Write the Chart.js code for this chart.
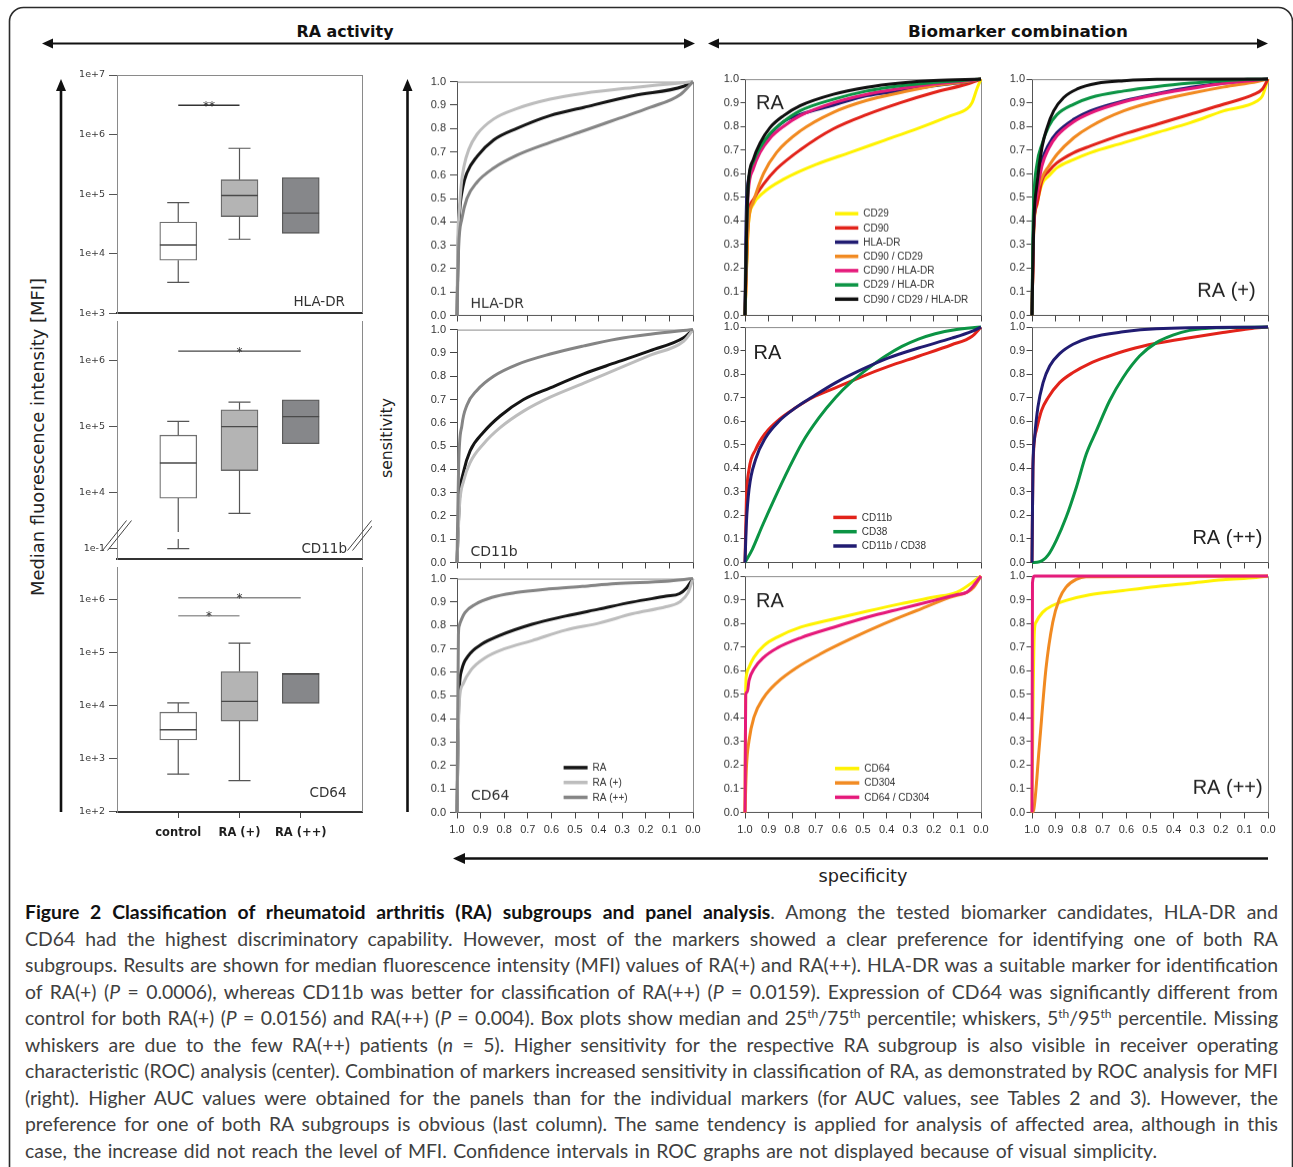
<!DOCTYPE html>
<html>
<head>
<meta charset="utf-8">
<title>Figure 2</title>
<script src="https://cdn.jsdelivr.net/npm/chart.js@4.4.1/dist/chart.umd.min.js"></script>
<style>
  body { margin: 0; width: 1293px; height: 1167px; overflow: hidden; position: relative; background: #fff; }
  .panel { position: absolute; }
  #caption { position: absolute; left: 25px; top: 899px; width: 1253px; font-family: Lato, sans-serif; font-size: 17.5px; line-height: 26.55px; color: #404040; }
  #caption .cl { white-space: nowrap; }
  #caption b { color: #111; }
  #caption sup { font-size: 0.62em; line-height: 0; vertical-align: 0.55em; }
</style>
</head>
<body>
<svg width="1293" height="1167" style="position:absolute;left:0;top:0">
  <rect x="9.5" y="7.5" width="1283" height="1200" rx="14" ry="14" fill="none" stroke="#2b2b2b" stroke-width="1.6"/>
  <g stroke="#111" fill="none">
    <line x1="50" y1="43.5" x2="687" y2="43.5" stroke-width="2"/>
    <line x1="716" y1="43.5" x2="1260" y2="43.5" stroke-width="2"/>
    <line x1="61" y1="88" x2="61" y2="812" stroke-width="2.6"/>
    <line x1="407.5" y1="88" x2="407.5" y2="812" stroke-width="2.6"/>
    <line x1="463" y1="858.5" x2="1268" y2="858.5" stroke-width="2.4"/>
  </g>
  <g fill="#111">
    <polygon points="42,43.5 53,38.5 53,48.5"/>
    <polygon points="695,43.5 684,38.5 684,48.5"/>
    <polygon points="708,43.5 719,38.5 719,48.5"/>
    <polygon points="1268,43.5 1257,38.5 1257,48.5"/>
    <polygon points="61,79 56,91 66,91"/>
    <polygon points="407.5,79 402.5,91 412.5,91"/>
    <polygon points="453,858.5 465,853 465,864"/>
  </g>
  <g font-family="DejaVu Sans" fill="#111">
    <text x="345" y="36.5" font-size="16" font-weight="bold" text-anchor="middle" textLength="97" lengthAdjust="spacingAndGlyphs">RA activity</text>
    <text x="1018" y="36.5" font-size="16" font-weight="bold" text-anchor="middle" textLength="220" lengthAdjust="spacingAndGlyphs">Biomarker combination</text>
    <text transform="translate(44,437) rotate(-90)" font-size="17.5" text-anchor="middle" textLength="318" lengthAdjust="spacingAndGlyphs" fill="#222">Median fluorescence intensity [MFI]</text>
    <text transform="translate(392,438) rotate(-90)" font-size="16" text-anchor="middle" textLength="80" lengthAdjust="spacingAndGlyphs" fill="#222">sensitivity</text>
    <text x="863" y="882" font-size="17" text-anchor="middle" textLength="89" lengthAdjust="spacingAndGlyphs" fill="#222">specificity</text>
  </g>
</svg>

<div id="caption">
  <div class="cl"><span><b>Figure 2 Classification of rheumatoid arthritis (RA) subgroups and panel analysis</b>. Among the tested biomarker candidates, HLA-DR and</span></div>
  <div class="cl"><span>CD64 had the highest discriminatory capability. However, most of the markers showed a clear preference for identifying one of both RA</span></div>
  <div class="cl"><span>subgroups. Results are shown for median fluorescence intensity (MFI) values of RA(+) and RA(++). HLA-DR was a suitable marker for identification</span></div>
  <div class="cl"><span>of RA(+) (<i>P</i> = 0.0006), whereas CD11b was better for classification of RA(++) (<i>P</i> = 0.0159). Expression of CD64 was significantly different from</span></div>
  <div class="cl"><span>control for both RA(+) (<i>P</i> = 0.0156) and RA(++) (<i>P</i> = 0.004). Box plots show median and 25<sup>th</sup>/75<sup>th</sup> percentile; whiskers, 5<sup>th</sup>/95<sup>th</sup> percentile. Missing</span></div>
  <div class="cl"><span>whiskers are due to the few RA(++) patients (<i>n</i> = 5). Higher sensitivity for the respective RA subgroup is also visible in receiver operating</span></div>
  <div class="cl"><span>characteristic (ROC) analysis (center). Combination of markers increased sensitivity in classification of RA, as demonstrated by ROC analysis for MFI</span></div>
  <div class="cl"><span>(right). Higher AUC values were obtained for the panels than for the individual markers (for AUC values, see Tables 2 and 3). However, the</span></div>
  <div class="cl"><span>preference for one of both RA subgroups is obvious (last column). The same tendency is applied for analysis of affected area, although in this</span></div>
  <div class="cl"><span>case, the increase did not reach the level of MFI. Confidence intervals in ROC graphs are not displayed because of visual simplicity.</span></div>
</div>

<script>
// ---------- Box plots (MFI)
const groups = ['control', 'RA (+)', 'RA (++)'];

const hladrQ1  = [7.8e3, 4.2e4, 2.2e4];
const hladrMed = [1.4e4, 9.5e4, 4.8e4];
const hladrQ3  = [3.4e4, 1.75e5, 1.9e5];
const hladrLo  = [3.3e3, 1.75e4, null];
const hladrHi  = [7.2e4, 5.9e5, null];
const hladrSig = [[1, 2, 3.1e6, '**']];

const cd11bQ1  = [8.2e3, 2.15e4, 5.5e4];
const cd11bMed = [2.8e4, 1.0e5, 1.42e5];
const cd11bQ3  = [7.4e4, 1.8e5, 2.55e5];
const cd11bLo  = [0.1, 4.8e3, null];
const cd11bHi  = [1.2e5, 2.35e5, null];
const cd11bSig = [[1, 3, 1.4e6, '*']];
const cd11bBreak = [1e3, 2.5e3];

const cd64Q1  = [2.25e3, 5.1e3, 1.1e4];
const cd64Med = [3.5e3, 1.2e4, 3.9e4];
const cd64Q3  = [7.5e3, 4.35e4, 4.05e4];
const cd64Lo  = [510, 385, null];
const cd64Hi  = [1.12e4, 1.5e5, null];
const cd64Sig = [[1, 3, 1.07e6, '*'], [1, 2, 4.9e5, '*']];

const hladrTicks = [1e3, 1e4, 1e5, 1e6, 1e7];
const hladrTickLabels = ['1e+3', '1e+4', '1e+5', '1e+6', '1e+7'];
const cd11bTicks = [0.1, 1e4, 1e5, 1e6];
const cd11bTickLabels = ['1e-1', '1e+4', '1e+5', '1e+6'];
const cd64Ticks = [1e2, 1e3, 1e4, 1e5, 1e6];
const cd64TickLabels = ['1e+2', '1e+3', '1e+4', '1e+5', '1e+6'];

// ---------- Courbes ROC [spécificité, sensibilité]
const rocTicks = [0, 0.1, 0.2, 0.3, 0.4, 0.5, 0.6, 0.7, 0.8, 0.9, 1.0];

// colonne 1 : RA / RA(+) / RA(++)
const hlaRA   = [[1,0],[0.995,0.3],[0.989,0.44],[0.975,0.55],[0.958,0.61],[0.915,0.68],[0.845,0.75],[0.746,0.8],[0.605,0.855],[0.463,0.89],[0.251,0.94],[0.04,0.98],[0,1]];
const hlaRAp  = [[1,0],[0.997,0.3],[0.99,0.45],[0.982,0.56],[0.97,0.64],[0.95,0.71],[0.915,0.775],[0.845,0.84],[0.746,0.885],[0.605,0.925],[0.463,0.95],[0.251,0.975],[0.1,0.99],[0,1]];
const hlaRApp = [[1,0],[0.993,0.29],[0.979,0.415],[0.958,0.5],[0.915,0.57],[0.845,0.63],[0.746,0.685],[0.605,0.74],[0.463,0.79],[0.322,0.84],[0.181,0.89],[0.054,0.945],[0,1]];

const cdbRA   = [[1,0],[0.989,0.28],[0.972,0.39],[0.944,0.48],[0.887,0.56],[0.816,0.63],[0.718,0.7],[0.605,0.75],[0.463,0.81],[0.322,0.86],[0.181,0.91],[0.04,0.965],[0,1]];
const cdbRAp  = [[1,0],[0.989,0.25],[0.972,0.35],[0.944,0.43],[0.887,0.51],[0.816,0.58],[0.718,0.65],[0.605,0.71],[0.463,0.77],[0.322,0.83],[0.181,0.89],[0.04,0.95],[0,1]];
const cdbRApp = [[1,0],[0.993,0.42],[0.979,0.59],[0.958,0.675],[0.915,0.74],[0.845,0.8],[0.746,0.85],[0.605,0.895],[0.463,0.93],[0.322,0.96],[0.181,0.98],[0,1]];

const c64RA   = [[1,0],[0.993,0.45],[0.989,0.55],[0.98,0.61],[0.952,0.67],[0.895,0.72],[0.824,0.755],[0.682,0.805],[0.54,0.84],[0.398,0.87],[0.256,0.9],[0.114,0.925],[0.057,0.936],[0.028,0.96],[0,1]];
const c64RAp  = [[1,0],[0.993,0.4],[0.989,0.49],[0.974,0.55],[0.94,0.61],[0.883,0.66],[0.798,0.7],[0.682,0.735],[0.54,0.78],[0.398,0.81],[0.256,0.85],[0.114,0.88],[0.057,0.9],[0.021,0.94],[0,1]];
const c64RApp = [[1,0],[0.994,0.76],[0.99,0.8],[0.987,0.81],[0.966,0.855],[0.923,0.89],[0.852,0.92],[0.753,0.94],[0.611,0.956],[0.469,0.967],[0.327,0.979],[0.114,0.989],[0,1]];

// colonnes 2 et 3 : marqueurs et combinaisons
const aCD29    = [[1,0],[0.986,0.38],[0.965,0.47],[0.922,0.52],[0.837,0.576],[0.696,0.64],[0.554,0.69],[0.413,0.74],[0.272,0.79],[0.13,0.845],[0.059,0.875],[0.038,0.9],[0.017,0.96],[0,1]];
const aCD90    = [[1,0],[0.986,0.41],[0.965,0.49],[0.922,0.555],[0.866,0.62],[0.767,0.7],[0.625,0.79],[0.484,0.85],[0.342,0.9],[0.201,0.943],[0.059,0.979],[0,1]];
const aHLA     = [[1,0],[0.997,0.3],[0.993,0.49],[0.979,0.6],[0.95,0.69],[0.908,0.75],[0.837,0.82],[0.767,0.85],[0.625,0.89],[0.484,0.93],[0.342,0.95],[0.201,0.972],[0.059,0.989],[0,1]];
const aCD90CD29 = [[1,0],[0.986,0.38],[0.965,0.48],[0.922,0.6],[0.866,0.69],[0.767,0.78],[0.625,0.86],[0.484,0.91],[0.342,0.943],[0.201,0.972],[0.059,0.99],[0,1]];
const aCD90HLA = [[1,0],[0.993,0.35],[0.986,0.52],[0.965,0.62],[0.936,0.69],[0.894,0.75],[0.837,0.8],[0.767,0.845],[0.625,0.9],[0.484,0.936],[0.342,0.96],[0.201,0.979],[0.059,0.993],[0,1]];
const aCD29HLA = [[1,0],[0.993,0.35],[0.986,0.55],[0.965,0.65],[0.936,0.71],[0.894,0.77],[0.837,0.82],[0.767,0.866],[0.625,0.915],[0.484,0.95],[0.342,0.972],[0.201,0.986],[0,1]];
const aAll3    = [[1,0],[0.993,0.38],[0.986,0.56],[0.965,0.66],[0.936,0.73],[0.894,0.795],[0.837,0.845],[0.767,0.887],[0.625,0.936],[0.484,0.965],[0.342,0.983],[0.201,0.994],[0,1]];

const pCD29    = [[1,0],[0.993,0.35],[0.979,0.47],[0.958,0.555],[0.929,0.59],[0.894,0.625],[0.823,0.66],[0.752,0.689],[0.611,0.731],[0.47,0.774],[0.328,0.816],[0.187,0.866],[0.045,0.908],[0.024,0.929],[0,1]];
const pCD90    = [[1,0],[0.993,0.37],[0.979,0.47],[0.958,0.57],[0.929,0.611],[0.894,0.646],[0.823,0.689],[0.752,0.717],[0.611,0.767],[0.47,0.809],[0.328,0.852],[0.187,0.894],[0.059,0.936],[0.024,0.958],[0,1]];
const pHLA     = [[1,0],[0.996,0.3],[0.993,0.37],[0.979,0.54],[0.958,0.653],[0.929,0.724],[0.894,0.774],[0.823,0.83],[0.752,0.866],[0.611,0.908],[0.47,0.939],[0.328,0.965],[0.187,0.983],[0,1]];
const pCD90CD29 = [[1,0],[0.993,0.37],[0.979,0.512],[0.958,0.583],[0.929,0.632],[0.894,0.682],[0.823,0.752],[0.752,0.8],[0.611,0.866],[0.47,0.908],[0.328,0.94],[0.187,0.967],[0.045,0.99],[0,1]];
const pCD90HLA = [[1,0],[0.993,0.35],[0.979,0.512],[0.958,0.632],[0.929,0.707],[0.894,0.76],[0.823,0.82],[0.752,0.857],[0.611,0.904],[0.47,0.936],[0.328,0.96],[0.187,0.982],[0,1]];
const pCD29HLA = [[1,0],[0.996,0.35],[0.993,0.48],[0.979,0.64],[0.958,0.724],[0.929,0.8],[0.894,0.85],[0.823,0.894],[0.752,0.922],[0.611,0.95],[0.47,0.969],[0.328,0.983],[0.187,0.993],[0.088,0.999],[0,1]];
const pAll3    = [[1,0],[0.993,0.37],[0.979,0.555],[0.958,0.71],[0.936,0.795],[0.908,0.866],[0.866,0.922],[0.809,0.958],[0.724,0.982],[0.611,0.993],[0.47,0.999],[0,1]];

const bCD11b = [[1,0],[0.994,0.27],[0.983,0.395],[0.955,0.48],[0.913,0.55],[0.856,0.607],[0.786,0.657],[0.715,0.7],[0.617,0.742],[0.504,0.79],[0.392,0.833],[0.265,0.876],[0.124,0.925],[0.039,0.96],[0,1]];
const bCD38  = [[1,0],[0.969,0.056],[0.927,0.155],[0.87,0.282],[0.814,0.4],[0.758,0.508],[0.687,0.614],[0.617,0.7],[0.546,0.77],[0.476,0.826],[0.406,0.876],[0.335,0.918],[0.265,0.949],[0.194,0.972],[0.11,0.989],[0,1]];
const bComb  = [[1,0],[0.994,0.17],[0.983,0.31],[0.955,0.438],[0.913,0.53],[0.856,0.6],[0.786,0.657],[0.715,0.703],[0.617,0.763],[0.504,0.82],[0.392,0.869],[0.265,0.911],[0.124,0.953],[0.039,0.982],[0,1]];

const ppCD11b = [[1,0],[0.996,0.405],[0.982,0.56],[0.96,0.645],[0.932,0.7],[0.883,0.764],[0.826,0.807],[0.756,0.845],[0.685,0.873],[0.586,0.905],[0.473,0.931],[0.332,0.955],[0.191,0.977],[0.078,0.993],[0,1]];
const ppCD38  = [[1,0],[0.968,0.003],[0.932,0.031],[0.897,0.094],[0.855,0.193],[0.812,0.32],[0.77,0.461],[0.727,0.56],[0.671,0.687],[0.614,0.786],[0.544,0.877],[0.473,0.934],[0.403,0.966],[0.332,0.986],[0.219,0.997],[0,1]];
const ppComb  = [[1,0],[0.996,0.405],[0.989,0.53],[0.975,0.66],[0.953,0.764],[0.925,0.835],[0.883,0.887],[0.826,0.927],[0.756,0.955],[0.614,0.98],[0.473,0.993],[0,1]];

const cCD64  = [[1,0],[0.997,0.515],[0.994,0.58],[0.983,0.614],[0.962,0.657],[0.92,0.706],[0.863,0.742],[0.764,0.784],[0.623,0.819],[0.482,0.852],[0.341,0.883],[0.2,0.911],[0.102,0.932],[0,1]];
const cCD304 = [[1,0],[0.994,0.19],[0.983,0.304],[0.962,0.403],[0.92,0.487],[0.863,0.551],[0.779,0.614],[0.68,0.671],[0.553,0.734],[0.412,0.798],[0.271,0.855],[0.13,0.911],[0.059,0.932],[0.031,0.953],[0,1]];
const cComb  = [[1,0],[0.997,0.5],[0.99,0.51],[0.983,0.558],[0.962,0.607],[0.92,0.657],[0.863,0.696],[0.764,0.739],[0.623,0.784],[0.482,0.826],[0.341,0.862],[0.2,0.897],[0.102,0.922],[0.059,0.932],[0,1]];

const qCD64  = [[1,0],[0.995,0.5],[0.99,0.766],[0.983,0.805],[0.955,0.847],[0.912,0.876],[0.856,0.897],[0.757,0.921],[0.615,0.939],[0.474,0.956],[0.332,0.97],[0.191,0.984],[0.05,0.994],[0,1]];
const qCD304 = [[1,0],[0.993,0.01],[0.969,0.28],[0.941,0.607],[0.912,0.805],[0.884,0.904],[0.856,0.953],[0.813,0.986],[0.771,0.997],[0,1]];
const qComb  = [[1,0],[0.998,0.97],[0.99,1],[0,1]];

const gNames = ['RA', 'RA (+)', 'RA (++)'];
const gColors = ['#151515', '#bdbdbd', '#858585'];
const mNames = ['CD29', 'CD90', 'HLA-DR', 'CD90 / CD29', 'CD90 / HLA-DR', 'CD29 / HLA-DR', 'CD90 / CD29 / HLA-DR'];
const mColors = ['#fff200', '#e2231a', '#211c72', '#f18a21', '#e5197a', '#0b9444', '#101010'];
const bNames = ['CD11b', 'CD38', 'CD11b / CD38'];
const bColors = ['#e2231a', '#0b9444', '#211c72'];
const cNames = ['CD64', 'CD304', 'CD64 / CD304'];
const cColors = ['#fff200', '#f18a21', '#e5197a'];

// ---------- utilitaires
function addPanel(left, top, w, h) {
    const div = document.createElement('div');
    div.className = 'panel';
    div.style.left = left + 'px';
    div.style.top = top + 'px';
    div.style.width = w + 'px';
    div.style.height = h + 'px';
    const cv = document.createElement('canvas');
    div.appendChild(cv);
    document.body.appendChild(div);
    return cv;
}

// segments -> points avec coupures (y: null)
function segs(list) {
    const pts = [];
    list.forEach(s => {
        pts.push({ x: s[0][0], y: s[0][1] }, { x: s[1][0], y: s[1][1] }, { x: s[1][0], y: null });
    });
    return pts;
}

const log = v => Math.log10(v);
// axe coupé du panneau CD11b
const tMid = v => v >= cd11bBreak[1] ? Math.log10(v) : 3.147 + (Math.log10(v) + 1) * 0.03675;

// décor des box plots : cadre, étoiles, nom du marqueur, coupure
const boxDeco = {
    id: 'boxDeco',
    afterDatasetsDraw(chart, args, o) {
        const { ctx, chartArea: a, scales: { x, y } } = chart;
        ctx.save();
        ctx.strokeStyle = '#8a8a8a';
        ctx.lineWidth = 1;
        ctx.beginPath();
        if (o.top) { ctx.moveTo(a.left, a.top + 0.5); ctx.lineTo(a.right, a.top + 0.5); }
        ctx.moveTo(a.right + 0.5, a.top); ctx.lineTo(a.right + 0.5, a.bottom);
        ctx.stroke();

        ctx.fillStyle = '#333';
        ctx.font = '12px "DejaVu Sans"';
        ctx.textAlign = 'center';
        ctx.textBaseline = 'alphabetic';
        o.sig.forEach(s => {
            ctx.fillText(s[3], x.getPixelForValue((s[0] + s[1]) / 2), y.getPixelForValue(o.tf(s[2])) + 4.5);
        });

        ctx.font = '13.5px "DejaVu Sans"';
        ctx.textAlign = 'right';
        ctx.textBaseline = 'middle';
        ctx.fillText(o.label, a.right - o.lx, a.top + o.ly);

        if (o.brk) {
            const yb = y.getPixelForValue((o.tf(o.brk[0]) + o.tf(o.brk[1])) / 2);
            ctx.strokeStyle = '#444';
            ctx.lineWidth = 1;
            [a.left, a.right].forEach(xb => {
                [-2.5, 2.5].forEach(off => {
                    ctx.beginPath();
                    ctx.moveTo(xb - 12 + off, yb + 15);
                    ctx.lineTo(xb + 12 + off, yb - 15);
                    ctx.stroke();
                });
            });
        }
        ctx.restore();
    }
};

function makeBox(cfg) {
    const t = cfg.tf;
    const H = cfg.bottom - cfg.top;
    const xh = cfg.labels ? 40 : 2;
    const cv = addPanel(57, cfg.top - 10, 315, H + 10 + xh);

    const boxes = cfg.q1.map((q, i) => ({ x: i + 1, y: [t(q), t(cfg.q3[i])] }));
    const medians = cfg.med.map((m, i) => [[i + 0.7, t(m)], [i + 1.3, t(m)]]);
    const whiskers = [], caps = [];
    cfg.hi.forEach((h, i) => {
        if (h == null) return;
        whiskers.push([[i + 1, t(cfg.q3[i])], [i + 1, t(h)]]);
        caps.push([[i + 0.82, t(h)], [i + 1.18, t(h)]]);
    });
    cfg.lo.forEach((l, i) => {
        if (l == null) return;
        if (cfg.brk && l < cfg.brk[0]) {
            whiskers.push([[i + 1, t(cfg.q1[i])], [i + 1, t(cfg.brk[1])]]);
            whiskers.push([[i + 1, t(cfg.brk[0])], [i + 1, t(l)]]);
        } else {
            whiskers.push([[i + 1, t(cfg.q1[i])], [i + 1, t(l)]]);
        }
        caps.push([[i + 0.82, t(l)], [i + 1.18, t(l)]]);
    });

    const lineDs = (data, color, width) => ({
        type: 'line', data: segs(data), borderColor: color, borderWidth: width,
        pointRadius: 0, tension: 0, spanGaps: false, order: 1
    });

    const datasets = [
        {
            type: 'bar', data: boxes,
            backgroundColor: ['#ffffff', '#b4b4b4', '#86878a'],
            borderColor: ['#707070', '#6a6a6a', '#5a5a5a'],
            borderWidth: 1.3, borderSkipped: false, barThickness: 37, order: 3
        },
        lineDs(medians, '#4a4a4a', 1.3),
        lineDs(whiskers, '#555', 1.2),
        lineDs(caps, '#555', 1.2)
    ];
    cfg.sig.forEach((s, i) => {
        datasets.push(lineDs([[[s[0], t(s[2])], [s[1], t(s[2])]]], cfg.sigColors[i], 1.4));
    });

    new Chart(cv, {
        type: 'bar',
        data: { datasets },
        options: {
            responsive: true, maintainAspectRatio: false, animation: false, events: [],
            devicePixelRatio: 1,
            layout: { padding: { top: 10, right: 10, left: 0, bottom: 0 } },
            plugins: {
                legend: { display: false }, tooltip: { enabled: false },
                boxDeco: { top: cfg.frameTop, sig: cfg.sig, tf: t, label: cfg.name, lx: cfg.lx, ly: cfg.ly, brk: cfg.brk }
            },
            scales: {
                x: {
                    type: 'linear', min: 0, max: 4, offset: false,
                    grid: { display: !!cfg.labels, offset: false, drawOnChartArea: false, tickLength: 6, color: '#444' },
                    border: { color: '#333', width: 2 },
                    ticks: {
                        display: !!cfg.labels, padding: 8, color: '#1e1e1e',
                        font: { family: 'DejaVu Sans', size: 11.5, weight: 'bold' },
                        maxRotation: 0, autoSkip: false,
                        callback: (v, i) => groups[i]
                    },
                    afterBuildTicks: s => { s.ticks = [1, 2, 3].map(v => ({ value: v })); },
                    afterFit: s => { s.height = xh; }
                },
                y: {
                    type: 'linear', min: cfg.ymin, max: cfg.ymax,
                    grid: { drawOnChartArea: false, tickLength: 8, color: '#555' },
                    border: { color: '#8a8a8a', width: 1 },
                    ticks: {
                        padding: 4, color: '#3a3a3a', autoSkip: false,
                        font: { family: 'DejaVu Sans', size: 9.5 },
                        callback: (v, i) => cfg.tickLabels[i]
                    },
                    afterBuildTicks: s => { s.ticks = cfg.ticks.map(v => ({ value: t(v) })); },
                    afterFit: s => { s.width = 60; }
                }
            }
        },
        plugins: [boxDeco]
    });
}

// décor ROC : cadre, nom du panneau, légende
const rocDeco = {
    id: 'rocDeco',
    beforeDatasetsDraw(chart) {
        const { ctx, chartArea: a } = chart;
        ctx.save();
        ctx.strokeStyle = '#8c8c8c';
        ctx.lineWidth = 1;
        ctx.beginPath();
        ctx.moveTo(a.left, a.top + 0.5); ctx.lineTo(a.right + 0.5, a.top + 0.5); ctx.lineTo(a.right + 0.5, a.bottom);
        ctx.stroke();
        ctx.restore();
    },
    afterDatasetsDraw(chart, args, o) {
        const { ctx, chartArea: a } = chart;
        ctx.save();
        const lb = o.label;
        ctx.font = lb.font;
        ctx.fillStyle = lb.color;
        ctx.textBaseline = 'middle';
        ctx.textAlign = lb.align;
        ctx.fillText(lb.text, lb.align === 'right' ? a.right - lb.x : a.left + lb.x, a.top + lb.y);
        if (o.legend) {
            const lg = o.legend;
            ctx.font = '10px "Liberation Sans"';
            ctx.textAlign = 'left';
            ctx.fillStyle = '#333';
            chart.data.datasets.forEach((ds, i) => {
                const yy = a.top + lg.y + i * lg.dy;
                ctx.strokeStyle = ds.borderColor;
                ctx.lineWidth = 3.5;
                ctx.beginPath();
                ctx.moveTo(a.left + lg.x, yy);
                ctx.lineTo(a.left + lg.x + lg.len, yy);
                ctx.stroke();
                ctx.fillText(ds.label, a.left + lg.x + lg.len + 5, yy + 0.5);
            });
        }
        ctx.restore();
    }
};

const rocLeft = [456.7, 745, 1031.7];
const rocTop = [79, 326.7, 576];
const rocTickLen = [7, 4.5, 5.5];
const rocTickPad = [4, 1.5, 1.5];

function makeRoc(col, row, series, names, colors, label, legend) {
    const W = 236, H = 235.5;
    const cv = addPanel(rocLeft[col] - 44, rocTop[row] - 8, W + 52, H + 36);
    const n = series.length;
    new Chart(cv, {
        type: 'line',
        data: {
            datasets: series.map((s, i) => ({
                label: names[i],
                data: s.map(p => ({ x: p[0], y: p[1] })),
                borderColor: colors[i], borderWidth: 3, pointRadius: 0,
                cubicInterpolationMode: 'monotone', fill: false, order: n - i, clip: 2
            }))
        },
        options: {
            responsive: true, maintainAspectRatio: false, animation: false, events: [],
            devicePixelRatio: 1,
            layout: { padding: { top: 8, right: 8, left: 0, bottom: 0 } },
            plugins: { legend: { display: false }, tooltip: { enabled: false }, rocDeco: { label, legend } },
            scales: {
                x: {
                    type: 'linear', reverse: true, min: 0, max: 1,
                    grid: { drawOnChartArea: false, tickLength: 6, color: '#444' },
                    border: { color: '#555', width: 1 },
                    ticks: {
                        display: row === 2, padding: 5, color: '#333', maxRotation: 0, autoSkip: false,
                        font: { family: 'Liberation Sans', size: 11 },
                        callback: v => v.toFixed(1)
                    },
                    afterBuildTicks: s => { s.ticks = rocTicks.map(v => ({ value: v })); },
                    afterFit: s => { s.height = 28; }
                },
                y: {
                    type: 'linear', min: 0, max: 1,
                    grid: { drawOnChartArea: false, tickLength: rocTickLen[col], color: '#444' },
                    border: { color: '#555', width: 1 },
                    ticks: {
                        padding: rocTickPad[col], color: '#333', autoSkip: false,
                        font: { family: 'Liberation Sans', size: 11 },
                        callback: v => v.toFixed(1)
                    },
                    afterBuildTicks: s => { s.ticks = rocTicks.map(v => ({ value: v })); },
                    afterFit: s => { s.width = 44; }
                }
            }
        },
        plugins: [rocDeco]
    });
}

// ---------- construction
makeBox({ top: 75, bottom: 321, ymin: 3, ymax: 7, tf: log, q1: hladrQ1, med: hladrMed, q3: hladrQ3, lo: hladrLo, hi: hladrHi,
    sig: hladrSig, sigColors: ['#333'], ticks: hladrTicks, tickLabels: hladrTickLabels, name: 'HLA-DR', lx: 17, ly: 227, frameTop: true });
makeBox({ top: 321, bottom: 567, ymin: 2.985, ymax: 6.603, tf: tMid, q1: cd11bQ1, med: cd11bMed, q3: cd11bQ3, lo: cd11bLo, hi: cd11bHi,
    sig: cd11bSig, sigColors: ['#444'], ticks: cd11bTicks, tickLabels: cd11bTickLabels, name: 'CD11b', lx: 15, ly: 228, brk: cd11bBreak, frameTop: false });
makeBox({ top: 567, bottom: 812, ymin: 1.996, ymax: 6.607, tf: log, q1: cd64Q1, med: cd64Med, q3: cd64Q3, lo: cd64Lo, hi: cd64Hi,
    sig: cd64Sig, sigColors: ['#8a8a8a', '#9a9a9a'], ticks: cd64Ticks, tickLabels: cd64TickLabels, name: 'CD64', lx: 15.5, ly: 226, labels: true, frameTop: false });

const fCol1 = '14px "DejaVu Sans"', fRA = '20px "Liberation Sans"';
makeRoc(0, 0, [hlaRA, hlaRAp, hlaRApp], gNames, gColors, { text: 'HLA-DR', x: 13.5, y: 222, align: 'left', font: fCol1, color: '#333' }, null);
makeRoc(0, 1, [cdbRA, cdbRAp, cdbRApp], gNames, gColors, { text: 'CD11b', x: 13.5, y: 222.5, align: 'left', font: fCol1, color: '#333' }, null);
makeRoc(0, 2, [c64RA, c64RAp, c64RApp], gNames, gColors, { text: 'CD64', x: 14, y: 217, align: 'left', font: fCol1, color: '#333' },
    { x: 106.6, y: 188.3, dy: 14.8, len: 24 });

makeRoc(1, 0, [aCD29, aCD90, aHLA, aCD90CD29, aCD90HLA, aCD29HLA, aAll3], mNames, mColors,
    { text: 'RA', x: 11, y: 24, align: 'left', font: fRA, color: '#222' }, { x: 90, y: 134, dy: 14.2, len: 23.3 });
makeRoc(1, 1, [bCD11b, bCD38, bComb], bNames, bColors,
    { text: 'RA', x: 8.5, y: 26.5, align: 'left', font: fRA, color: '#222' }, { x: 88.3, y: 190.3, dy: 14.3, len: 23.4 });
makeRoc(1, 2, [cCD64, cCD304, cComb], cNames, cColors,
    { text: 'RA', x: 11, y: 25.7, align: 'left', font: fRA, color: '#222' }, { x: 90, y: 191.7, dy: 14.3, len: 24.3 });

makeRoc(2, 0, [pCD29, pCD90, pHLA, pCD90CD29, pCD90HLA, pCD29HLA, pAll3], mNames, mColors,
    { text: 'RA (+)', x: 12.3, y: 211.7, align: 'right', font: fRA, color: '#222' }, null);
makeRoc(2, 1, [ppCD11b, ppCD38, ppComb], bNames, bColors,
    { text: 'RA (++)', x: 5.6, y: 211.6, align: 'right', font: fRA, color: '#222' }, null);
makeRoc(2, 2, [qCD64, qCD304, qComb], cNames, cColors,
    { text: 'RA (++)', x: 5.3, y: 211.3, align: 'right', font: fRA, color: '#222' }, null);

// ---------- légende : taille de police ajustée puis justification ligne par ligne
function justifyCaption() {
    const cap = document.getElementById('caption');
    const lines = cap.querySelectorAll('.cl span');
    cap.style.fontSize = '17.5px';
    lines.forEach(sp => { sp.style.wordSpacing = '0px'; });
    let ratio = Infinity;
    lines.forEach((sp, i) => {
        if (i < lines.length - 1) ratio = Math.min(ratio, 1253 / sp.getBoundingClientRect().width);
    });
    cap.style.fontSize = (17.5 * ratio * 0.995) + 'px';
    lines.forEach((sp, i) => {
        const target = i === lines.length - 1 ? 1132 : 1253;
        const spaces = (sp.textContent.match(/ /g) || []).length;
        const extra = (target - sp.getBoundingClientRect().width) / spaces;
        sp.style.wordSpacing = extra + 'px';
    });
}
justifyCaption();
document.fonts.ready.then(justifyCaption);
</script>
</body>
</html>
